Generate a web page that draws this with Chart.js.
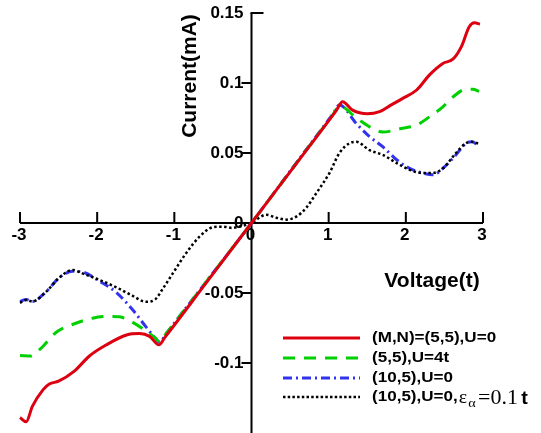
<!DOCTYPE html>
<html>
<head>
<meta charset="utf-8">
<script src="https://cdn.jsdelivr.net/npm/chart.js@4/dist/chart.umd.min.js"></script>
<style>
  html, body { margin: 0; padding: 0; background: #fff; }
  #wrap { width: 541px; height: 433px; position: relative; }
</style>
</head>
<body>
<div id="wrap"><canvas id="c" width="541" height="433"></canvas></div>
<script>
// ---- data ----
const xTicks = [-3, -2, -1, 0, 1, 2, 3];
const xTickLabels = ["-3", "-2", "-1", "0", "1", "2", "3"];
const yTicks = [0.15, 0.1, 0.05, 0, -0.05, -0.1];
const yTickLabels = ["0.15", "0.1", "0.05", "0", "-0.05", "-0.1"];

const seriesNames = ["(M,N)=(5,5),U=0", "(5,5),U=4t", "(10,5),U=0", "(10,5),U=0,"];

const vRed = [-3.0, -2.92, -2.84, -2.7, -2.62, -2.5, -2.3, -2.1, -1.88, -1.62, -1.45, -1.32, -1.2, -1.12, -0.6, 0, 0.6, 1.1, 1.18, 1.31, 1.5, 1.66, 1.8, 1.96, 2.14, 2.31, 2.48, 2.61, 2.72, 2.82, 2.89, 2.96];
const iRed = [-0.139, -0.142, -0.131, -0.119, -0.115, -0.113, -0.106, -0.095, -0.087, -0.080, -0.079, -0.081, -0.087, -0.0815, -0.0437, 0, 0.0438, 0.0805, 0.0866, 0.0806, 0.078, 0.0795, 0.084, 0.089, 0.095, 0.106, 0.114, 0.117, 0.126, 0.140, 0.143, 0.142];

const vGreen = [-3.0, -2.86, -2.78, -2.7, -2.53, -2.32, -2.06, -1.84, -1.71, -1.54, -1.37, -1.25, -1.19, -1.1, -0.6, 0, 0.6, 1.06, 1.14, 1.36, 1.53, 1.7, 1.96, 2.14, 2.31, 2.48, 2.61, 2.78, 2.87, 2.95];
const iGreen = [-0.0946, -0.095, -0.092, -0.088, -0.078, -0.0725, -0.068, -0.0667, -0.067, -0.071, -0.077, -0.082, -0.085, -0.0786, -0.0429, 0, 0.044, 0.0777, 0.0836, 0.075, 0.0687, 0.065, 0.0677, 0.070, 0.076, 0.083, 0.090, 0.0955, 0.0955, 0.094];

const vBlue = [-3.0, -2.92, -2.84, -2.66, -2.49, -2.32, -2.19, -1.97, -1.75, -1.54, -1.37, -1.25, -1.19, -1.1, -0.6, 0, 0.6, 1.06, 1.14, 1.36, 1.53, 1.7, 1.88, 2.05, 2.22, 2.35, 2.48, 2.65, 2.78, 2.86, 2.95];
const iBlue = [-0.056, -0.0547, -0.056, -0.049, -0.039, -0.0345, -0.035, -0.0416, -0.0497, -0.062, -0.074, -0.082, -0.085, -0.0786, -0.0429, 0, 0.0444, 0.0783, 0.0843, 0.071, 0.0617, 0.0545, 0.0452, 0.039, 0.0357, 0.0344, 0.039, 0.0487, 0.057, 0.058, 0.0545];

const vBlack = [-3.0, -2.92, -2.84, -2.66, -2.49, -2.32, -2.19, -2.0, -1.75, -1.54, -1.37, -1.25, -1.15, -1.02, -0.84, -0.67, -0.5, -0.37, -0.25, -0.12, 0, 0.06, 0.19, 0.32, 0.45, 0.58, 0.71, 0.84, 1.01, 1.14, 1.27, 1.36, 1.53, 1.7, 1.88, 2.05, 2.22, 2.35, 2.48, 2.65, 2.78, 2.85, 2.95];
const iBlack = [-0.057, -0.055, -0.056, -0.049, -0.039, -0.0335, -0.036, -0.040, -0.046, -0.052, -0.0563, -0.0547, -0.047, -0.036, -0.021, -0.0096, -0.003, -0.0026, -0.0035, -0.002, 0, 0.0024, 0.0059, 0.0038, 0.0024, 0.0045, 0.0109, 0.0213, 0.0357, 0.050, 0.057, 0.058, 0.052, 0.0487, 0.0428, 0.038, 0.0357, 0.0357, 0.039, 0.050, 0.057, 0.058, 0.0565];

const colors = ["#dd0010", "#00d000", "#3333ee", "#000000"];
const dashes = [[], [12, 9], [9, 4, 2, 4], [2.5, 2.5]];
const widths = [3, 3, 3, 2.5];

function pts(xs, ys) { return xs.map((x, i) => ({ x: x, y: ys[i] })); }

const seriesData = [pts(vRed, iRed), pts(vGreen, iGreen), pts(vBlue, iBlue), pts(vBlack, iBlack)];
const drawOrder = [2, 3, 1, 0];

const sansBold = (s) => "bold " + s + "px 'Liberation Sans', Arial, sans-serif";

const axesPlugin = {
  id: 'axesPlugin',
  beforeDatasetsDraw(chart) {
    const ctx = chart.ctx, xs = chart.scales.x, ys = chart.scales.y;
    const x0 = xs.getPixelForValue(0), y0 = ys.getPixelForValue(0);
    ctx.save();
    ctx.strokeStyle = "#000";
    ctx.lineWidth = 2;
    ctx.lineCap = "butt";
    ctx.beginPath();
    ctx.moveTo(xs.getPixelForValue(-3), y0);
    ctx.lineTo(xs.getPixelForValue(3), y0);
    ctx.moveTo(x0, ys.getPixelForValue(0.15));
    ctx.lineTo(x0, ys.getPixelForValue(-0.15));
    ctx.stroke();
    ctx.beginPath();
    xTicks.forEach(v => {
      if (v === 0) return;
      const px = xs.getPixelForValue(v);
      ctx.moveTo(px, y0);
      ctx.lineTo(px, y0 - 11);
    });
    yTicks.forEach(v => {
      if (v === 0) return;
      const py = ys.getPixelForValue(v);
      if (v === 0.15) { ctx.moveTo(x0 - 1, py); ctx.lineTo(x0 + 12, py); }
      else { ctx.moveTo(x0, py); ctx.lineTo(x0 - 10, py); }
    });
    ctx.stroke();
    ctx.fillStyle = "#000";
    ctx.font = sansBold(17);
    ctx.textAlign = "center";
    ctx.textBaseline = "middle";
    xTicks.forEach((v, i) => {
      ctx.fillText(xTickLabels[i], xs.getPixelForValue(v) - 1, y0 + 12);
    });
    ctx.textAlign = "right";
    yTicks.forEach((v, i) => {
      ctx.fillText(yTickLabels[i], x0 - 8, ys.getPixelForValue(v));
    });
    ctx.font = sansBold(21);
    ctx.textAlign = "center";
    ctx.fillText("Voltage(t)", 432, 281);
    ctx.save();
    ctx.translate(190, 76);
    ctx.rotate(-Math.PI / 2);
    ctx.fillText("Current(mA)", 0, 0);
    ctx.restore();
    ctx.restore();
  },
  afterDraw(chart) {
    const ctx = chart.ctx;
    const rows = [338, 358, 378, 397];
    ctx.save();
    rows.forEach((ry, i) => {
      ctx.strokeStyle = colors[i];
      ctx.lineWidth = widths[i];
      ctx.setLineDash(i === 3 ? [2.5, 2.2] : dashes[i]);
      ctx.beginPath();
      ctx.moveTo(283, ry);
      ctx.lineTo(360, ry);
      ctx.stroke();
    });
    ctx.setLineDash([]);
    ctx.fillStyle = "#000";
    ctx.textAlign = "left";
    // text stretched horizontally to match the wide bold face
    ctx.translate(372, 0);
    ctx.scale(1.1, 1);
    ctx.textBaseline = "middle";
    ctx.font = sansBold(15.5);
    rows.forEach((ry, i) => { ctx.fillText(seriesNames[i], 0, ry); });
    let x = ctx.measureText(seriesNames[3]).width + 1;
    const ry = rows[3];
    ctx.textBaseline = "alphabetic";
    ctx.font = "18px 'Liberation Serif', 'Times New Roman', serif";
    ctx.fillText("\u03B5", x, ry + 6);
    x += ctx.measureText("\u03B5").width + 1;
    ctx.font = "13px 'Liberation Serif', 'Times New Roman', serif";
    ctx.fillText("\u03B1", x, ry + 10);
    x += ctx.measureText("\u03B1").width + 2;
    ctx.font = "20px 'Liberation Serif', 'Times New Roman', serif";
    ctx.fillText("=0.1", x, ry + 7);
    x += ctx.measureText("=0.1").width + 3;
    ctx.font = sansBold(18);
    ctx.fillText("t", x, ry + 7);
    ctx.restore();
  }
};

const datasets = seriesData.map((d, i) => ({
  label: seriesNames[i],
  data: d,
  borderColor: colors[i],
  backgroundColor: colors[i],
  borderWidth: widths[i],
  borderDash: dashes[i],
  borderCapStyle: "butt",
  pointRadius: 0,
  fill: false,
  showLine: true,
  cubicInterpolationMode: "monotone",
  clip: false,
  order: 3 - drawOrder.indexOf(i)
}));

new Chart(document.getElementById("c"), {
  type: "line",
  data: { datasets: datasets },
  options: {
    responsive: false,
    animation: false,
    layout: { padding: { left: 20, right: 58, top: 13, bottom: 0 } },
    plugins: { legend: { display: false }, tooltip: { enabled: false } },
    scales: {
      x: { type: "linear", min: -3, max: 3, display: false },
      y: { type: "linear", min: -0.15, max: 0.15, display: false }
    }
  },
  plugins: [axesPlugin]
});
</script>
</body>
</html>
